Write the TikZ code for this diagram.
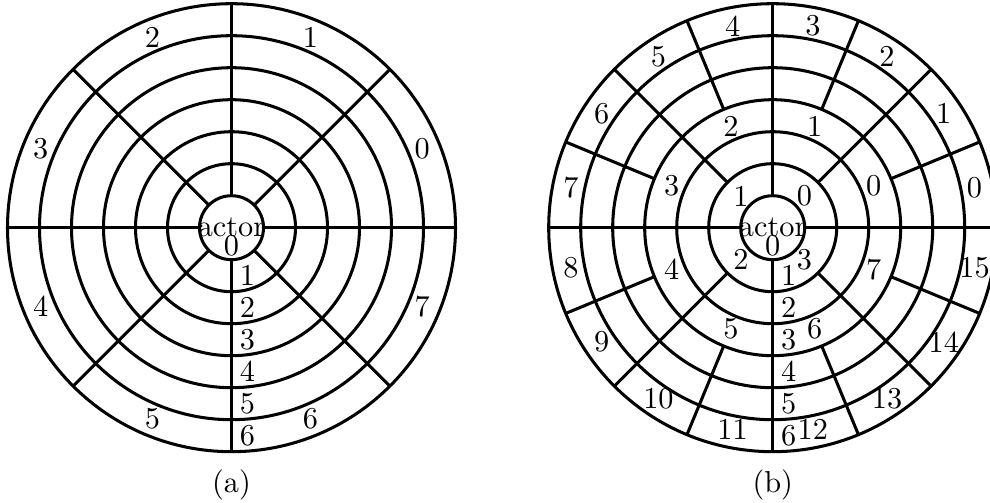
\documentclass[tikz,border=0pt]{standalone}
\begin{document}
\begin{tikzpicture}[x=0.33pt,y=0.33pt,
  ring/.style={line width=1pt},
  lab/.style={inner sep=0pt}]
\useasboundingbox (0,0) rectangle (990,503);
\clip (0,0) rectangle (990,503);
% ---------- (a) ----------
\begin{scope}[shift={(231.5,275.3)}, scale=32]
  \foreach \r in {1,...,7} \draw[ring] (0,0) circle[radius=\r];
  \foreach \a in {0,45,...,315} \draw[ring] (\a:1) -- (\a:7);
  \foreach \i in {0,...,7} \node[lab] (sa\i) at ({22.5+45*\i}:6.45) {\i};
  \node[lab] (ra0) at (0,-0.55) {0};
  \foreach \k in {1,...,6} \node[lab] (ra\k) at (0.5,{-(\k+0.5)}) {\k};
  \node[lab] (actora) at (0,0) {actor};
\end{scope}
% ---------- (b) ----------
\begin{scope}[shift={(772.7,275.3)}, scale=32]
  \foreach \r in {1,...,7} \draw[ring] (0,0) circle[radius=\r];
  \foreach \a in {0,90,180,270} \draw[ring] (\a:1) -- (\a:7);
  \foreach \a in {45,135,225,315} \draw[ring] (\a:2) -- (\a:7);
  \foreach \a in {22.5,67.5,...,337.5} \draw[ring] (\a:4) -- (\a:7);
  \foreach \i in {0,...,3} \node[lab] (qb\i) at ({45+90*\i}:1.4) {\i};
  \foreach \i in {0,...,7} \node[lab] (eb\i) at ({22.5+45*\i}:3.42) {\i};
  \foreach \i in {0,...,15} \node[lab] (sb\i) at ({11.25+22.5*\i}:6.43) {\i};
  \node[lab] (rb0) at (0,-0.55) {0};
  \foreach \k in {1,...,6} \node[lab] (rb\k) at (0.5,{-(\k+0.5)}) {\k};
  \node[lab] (actorb) at (0,0) {actor};
\end{scope}
% ---------- captions ----------
\node (capa) at (231.5,18) {(a)};
\node (capb) at (772.7,18) {(b)};
\end{tikzpicture}
\end{document}
